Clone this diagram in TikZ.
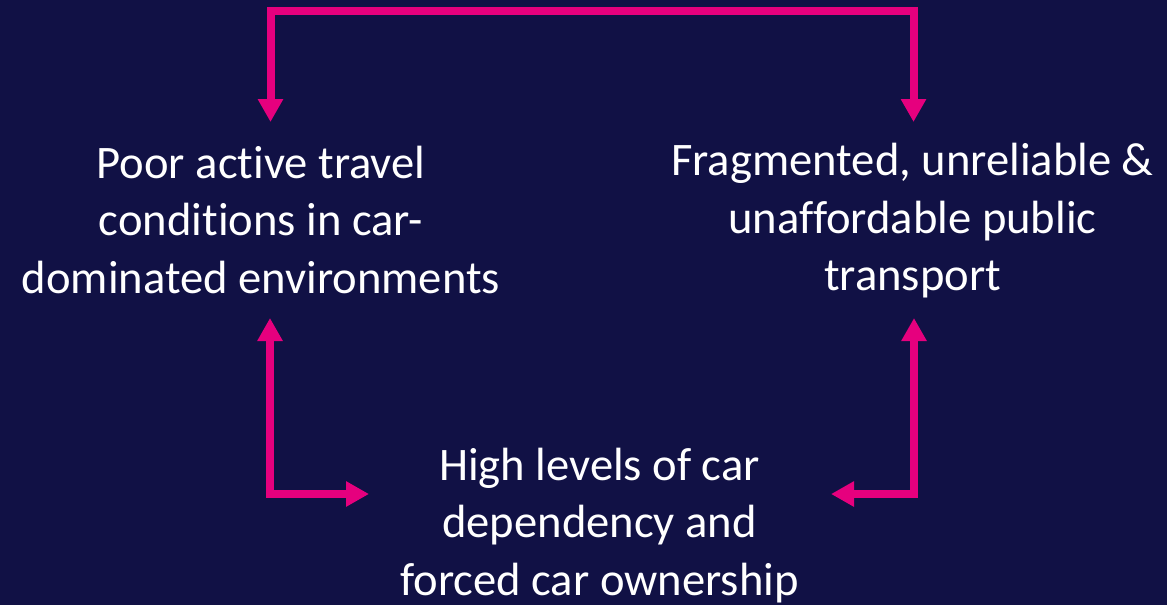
\documentclass[tikz,border=0pt]{standalone}
\usepackage{fontspec}
\setmainfont{Carlito}[RawFeature={-liga;-clig;-dlig}]
\usetikzlibrary{arrows.meta}
\definecolor{bgnavy}{RGB}{17,17,69}
\definecolor{magentaline}{RGB}{230,0,126}
\tikzset{
  label text/.style={text=white, align=center, inner sep=0pt, anchor=base,
    font=\fontsize{46.6}{57.5}\selectfont},
  link/.style={draw=magentaline, line width=8pt, line join=miter,
    arrows={Triangle[width=24pt,length=23pt]-Triangle[width=24pt,length=23pt]}},
}
\begin{document}
\begin{tikzpicture}[x=1pt,y=-1pt]
  \fill[bgnavy] (0,0) rectangle (1167,605);
  \useasboundingbox (0,0) rectangle (1167,605);

  \node[label text] (poor) at (261,293) {Poor active travel\\conditions in car-\\dominated environments};
  \node[label text] (frag) at (912.5,290.5) {Fragmented, unreliable \&\\unaffordable public\\transport};
  \node[label text] (high) at (599.5,595) {High levels of car\\dependency and\\forced car ownership};

  \coordinate (poorTop) at (270.5,122);
  \coordinate (fragTop) at (913.5,122);
  \coordinate (poorBot) at (270,318);
  \coordinate (fragBot) at (914,318);
  \coordinate (highL) at (369,494);
  \coordinate (highR) at (831,494);

  \draw[link] (poorTop) -- (poorTop |- 0,11) -- (fragTop |- 0,11) -- (fragTop);
  \draw[link] (poorBot) -- (poorBot |- highL) -- (highL);
  \draw[link] (fragBot) -- (fragBot |- highR) -- (highR);
\end{tikzpicture}
\end{document}
